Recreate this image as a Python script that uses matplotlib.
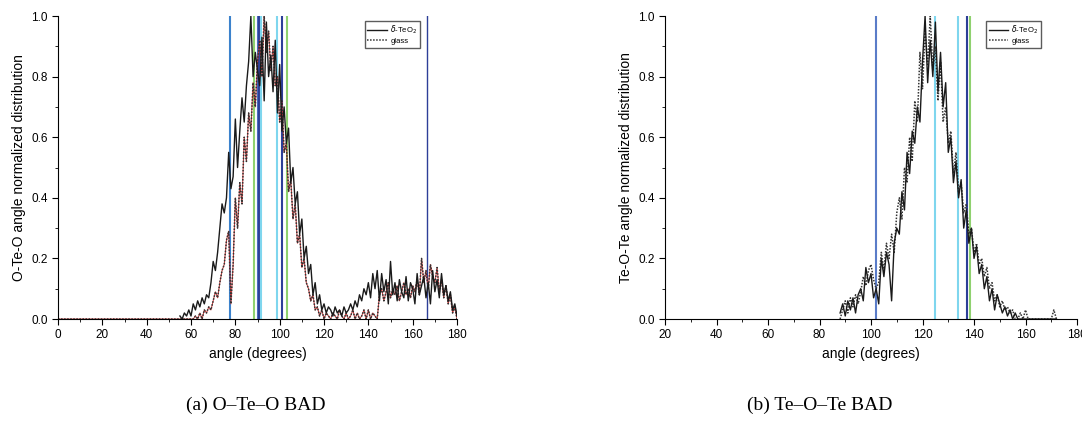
import numpy as np
import matplotlib.pyplot as plt
from matplotlib.ticker import MultipleLocator

# ---- O-Te-O bond angle distribution (left) ----
ote_x = np.arange(55, 181)
ote_crystal = [0.01, 0.0, 0.02, 0.01, 0.03, 0.01, 0.05, 0.03, 0.06, 0.04,
               0.07, 0.05, 0.08, 0.07, 0.12, 0.19, 0.16, 0.22, 0.30, 0.38,
               0.35, 0.40, 0.55, 0.43, 0.47, 0.66, 0.50, 0.62, 0.73, 0.65,
               0.77, 0.85, 1.0, 0.80, 0.88, 0.82, 0.77, 0.93, 0.72, 0.98,
               0.80, 0.87, 0.75, 0.92, 0.68, 0.84, 0.62, 0.70, 0.58, 0.63,
               0.45, 0.50, 0.38, 0.42, 0.28, 0.33, 0.20, 0.24, 0.15, 0.18,
               0.08, 0.12, 0.05, 0.08, 0.03, 0.05, 0.02, 0.04, 0.03, 0.01,
               0.04, 0.02, 0.03, 0.01, 0.04, 0.02, 0.03, 0.05, 0.03, 0.06,
               0.04, 0.08, 0.06, 0.10, 0.08, 0.12, 0.07, 0.15, 0.10, 0.16,
               0.06, 0.15, 0.09, 0.13, 0.05, 0.19, 0.08, 0.12, 0.06, 0.13,
               0.09, 0.07, 0.14, 0.06, 0.12, 0.10, 0.05, 0.15, 0.08, 0.11,
               0.14, 0.07, 0.12, 0.05, 0.16, 0.09, 0.13, 0.07, 0.15, 0.08,
               0.11, 0.06, 0.09, 0.03, 0.05, 0.01]
ote_glass_x = np.arange(0, 181)
ote_glass = [0.0] * 55 + [
    0.0, 0.0, 0.0, 0.0, 0.0, 0.0, 0.0, 0.01, 0.0, 0.02,
    0.0, 0.03, 0.02, 0.04, 0.03, 0.06, 0.09, 0.07, 0.12, 0.16,
    0.18, 0.26, 0.29, 0.05, 0.18, 0.40, 0.30, 0.45, 0.38, 0.60,
    0.52, 0.68, 0.62, 0.78, 0.70, 0.85, 0.92, 0.80, 1.0, 0.88,
    0.95, 0.82, 0.90, 0.77, 0.80, 0.65, 0.72, 0.55, 0.58, 0.42,
    0.46, 0.33, 0.38, 0.25, 0.28, 0.17, 0.20, 0.12, 0.10, 0.06,
    0.08, 0.03, 0.04, 0.01, 0.03, 0.0, 0.02, 0.01, 0.0, 0.02,
    0.01, 0.0, 0.03, 0.01, 0.0, 0.02, 0.0, 0.01, 0.03, 0.0,
    0.02, 0.0, 0.01, 0.03, 0.0, 0.03, 0.0, 0.02, 0.01, 0.0,
    0.08, 0.10, 0.06, 0.09, 0.12, 0.07, 0.10, 0.08, 0.11, 0.06,
    0.09, 0.12, 0.08, 0.10, 0.07, 0.11, 0.09, 0.13, 0.08, 0.20,
    0.12, 0.16, 0.10, 0.18, 0.14, 0.12, 0.17, 0.09, 0.13, 0.07,
    0.11, 0.05, 0.08, 0.02, 0.04, 0.0]
ote_marks = [77.6, 88.5, 90.0, 90.8, 91.6, 98.9, 101.2, 103.1, 166.3]
ote_mark_colors = ['#3c82cc', '#8fd16f', '#4a6cc0', '#2d3f98', '#7fd6ee',
                   '#7fd6ee', '#2d3f98', '#8fd16f', '#2d3f98']

# ---- Te-O-Te bond angle distribution (right) ----
teo_x = np.arange(88, 173)
teo_crystal = [0.02, 0.05, 0.01, 0.06, 0.03, 0.07, 0.02, 0.08, 0.10, 0.06,
               0.17, 0.12, 0.15, 0.07, 0.10, 0.05, 0.20, 0.14, 0.22, 0.18,
               0.06, 0.25, 0.30, 0.28, 0.42, 0.36, 0.55, 0.48, 0.62, 0.58,
               0.70, 0.65, 0.85, 1.0, 0.78, 0.92, 0.80, 0.98, 0.75, 0.88,
               0.70, 0.78, 0.55, 0.60, 0.45, 0.52, 0.40, 0.46, 0.30, 0.36,
               0.25, 0.30, 0.20, 0.24, 0.15, 0.18, 0.10, 0.14, 0.06, 0.10,
               0.03, 0.08, 0.05, 0.02, 0.04, 0.01, 0.03, 0.0, 0.02, 0.0,
               0.0, 0.0, 0.0, 0.0, 0.0, 0.0, 0.0, 0.0, 0.0, 0.0,
               0.0, 0.0, 0.0, 0.0, 0.0]
teo_glass = [0.0, 0.03, 0.06, 0.02, 0.07, 0.04, 0.08, 0.05, 0.09, 0.14,
             0.11, 0.16, 0.18, 0.13, 0.10, 0.12, 0.22, 0.16, 0.25, 0.20,
             0.28, 0.22, 0.35, 0.40, 0.33, 0.50, 0.45, 0.60, 0.52, 0.72,
             0.65, 0.88, 0.76, 0.95, 0.84, 1.0, 0.82, 0.90, 0.72, 0.85,
             0.65, 0.70, 0.58, 0.62, 0.48, 0.55, 0.42, 0.45, 0.35, 0.38,
             0.28, 0.30, 0.22, 0.25, 0.18, 0.20, 0.14, 0.17, 0.10, 0.12,
             0.06, 0.08, 0.04, 0.06, 0.03, 0.04, 0.02, 0.03, 0.0, 0.0,
             0.02, 0.0, 0.03, 0.0, 0.0, 0.0, 0.0, 0.0, 0.0, 0.0,
             0.0, 0.0, 0.0, 0.03, 0.0]
teo_marks = [101.8, 124.9, 133.9, 137.4, 138.4]
teo_mark_colors = ['#5a7cc8', '#7fd6ee', '#7fd6ee', '#2d3f98', '#8fd16f']

plt.rcParams['font.family'] = ['Liberation Sans', 'DejaVu Sans']

fig = plt.figure(figsize=(10.82, 4.36), dpi=100)
ax1 = fig.add_axes([0.0536, 0.2683, 0.3688, 0.695])
ax2 = fig.add_axes([0.6146, 0.2683, 0.3808, 0.695])


def style(ax, xlim, ylabel):
    ax.set_xlim(*xlim)
    ax.set_ylim(0, 1.0)
    ax.spines['top'].set_visible(False)
    ax.spines['right'].set_visible(False)
    ax.xaxis.set_major_locator(MultipleLocator(20))
    ax.xaxis.set_minor_locator(MultipleLocator(10))
    ax.yaxis.set_major_locator(MultipleLocator(0.2))
    ax.yaxis.set_minor_locator(MultipleLocator(0.1))
    ax.yaxis.set_major_formatter(plt.FormatStrFormatter('%.1f'))
    ax.tick_params(which='both', direction='out', labelsize=8.5)
    ax.tick_params(which='major', length=4)
    ax.tick_params(which='minor', length=2.5)
    ax.set_xlabel('angle (degrees)', fontsize=10)
    ax.set_ylabel(ylabel, fontsize=10)


def legend(ax, x0):
    ax.legend(loc='upper left', bbox_to_anchor=(x0, 0.99), fontsize=5.5, frameon=True,
              fancybox=False, edgecolor='#333333', handlelength=2.6, borderpad=0.35,
              labelspacing=0.25, handletextpad=0.4, borderaxespad=0.2)


for x, c in zip(ote_marks, ote_mark_colors):
    ax1.axvline(x, color=c, lw=1.0 if x > 160 else 1.5, zorder=1)
ax1.plot(ote_x, ote_crystal, color='#1a1a1a', lw=1.0, label=r'$\delta$-TeO$_2$', zorder=3)
ax1.plot(ote_glass_x, ote_glass, color='#cc3333', lw=0.7, zorder=2)
ax1.plot(ote_glass_x, ote_glass, color='#333333', lw=1.1, ls=(0, (1, 1)), label='glass', zorder=2)
style(ax1, (0, 180), 'O-Te-O angle normalized distribution')
legend(ax1, 0.765)

for x, c in zip(teo_marks, teo_mark_colors):
    ax2.axvline(x, color=c, lw=1.5, zorder=1)
ax2.plot(teo_x, teo_crystal, color='#1a1a1a', lw=1.0, label=r'$\delta$-TeO$_2$', zorder=3)
ax2.plot(teo_x, teo_glass, color='#333333', lw=1.1, ls=(0, (1, 1)), label='glass', zorder=2)
style(ax2, (20, 180), 'Te-O-Te angle normalized distribution')
legend(ax2, 0.775)

fig.text(0.236, 0.07, '(a) O\u2013Te\u2013O BAD', ha='center', va='center',
         fontsize=14, family=['Liberation Serif', 'DejaVu Serif'])
fig.text(0.758, 0.07, '(b) Te\u2013O\u2013Te BAD', ha='center', va='center',
         fontsize=14, family=['Liberation Serif', 'DejaVu Serif'])

fig.savefig('out.png', dpi=100)
